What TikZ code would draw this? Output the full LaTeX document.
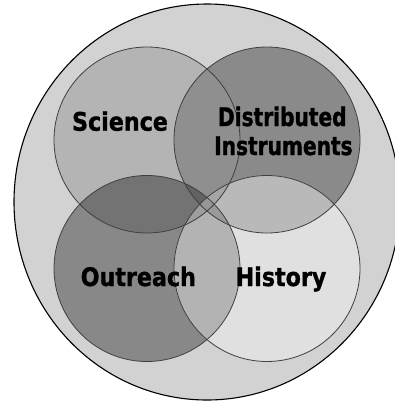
\documentclass[tikz,border=0pt]{standalone}
\usepackage{fontspec}
\newfontfamily\labfont[FakeStretch=0.87,FakeBold=1.2]{DejaVu Sans}
\newfontfamily\labfontn[FakeStretch=0.79,FakeBold=1.2]{DejaVu Sans}
\definecolor{outerc}{HTML}{D2D2D2}
\definecolor{sc}{HTML}{B4B4B4}
\definecolor{dc}{HTML}{8A8A8A}
\definecolor{oc}{HTML}{888888}
\definecolor{hc}{HTML}{E0E0E0}
\definecolor{sdc}{HTML}{8F8F8F}
\definecolor{soc}{HTML}{737373}
\definecolor{dhc}{HTML}{B9B9B9}
\definecolor{ohc}{HTML}{B3B3B3}
\definecolor{shc}{HTML}{A8A8A8}
\definecolor{doc}{HTML}{7A7A7A}
\definecolor{sdoc}{HTML}{626262}
\definecolor{sohc}{HTML}{9E9E9E}
\definecolor{sdhc}{HTML}{A6A6A6}
\definecolor{dohc}{HTML}{9A9A9A}
\definecolor{allc}{HTML}{969696}
\definecolor{ringc}{HTML}{404040}
\begin{document}
\begin{tikzpicture}[x=1pt,y=-1pt,
  lab/.style={font=\labfont\bfseries\fontsize{25.5}{29}\selectfont, anchor=base, inner sep=0pt},
  labn/.style={font=\labfontn\bfseries\fontsize{25.5}{29}\selectfont, anchor=base, inner sep=0pt},
  ring/.style={draw=ringc, line width=0.8pt},
  outerring/.style={draw=black, line width=1.1pt}]
\def\Sp{(147,140) circle [radius=93]}
\def\Dp{(267,140) circle [radius=93]}
\def\Op{(147,268.5) circle [radius=93]}
\def\Hp{(267,268.5) circle [radius=93]}
\useasboundingbox (0,0) rectangle (395,402);
\clip (0,0) rectangle (395,402);
\fill[white] (0,0) rectangle (395,402);
% outer circle
\fill[outerc] (207,202) ellipse [x radius=193, y radius=198];
% single circles
\fill[sc] \Sp;
\fill[dc] \Dp;
\fill[oc] \Op;
\fill[hc] \Hp;
% pairwise overlaps
\begin{scope}\clip \Sp; \fill[sdc] \Dp; \end{scope}
\begin{scope}\clip \Sp; \fill[soc] \Op; \end{scope}
\begin{scope}\clip \Dp; \fill[dhc] \Hp; \end{scope}
\begin{scope}\clip \Op; \fill[ohc] \Hp; \end{scope}
\begin{scope}\clip \Sp; \fill[shc] \Hp; \end{scope}
\begin{scope}\clip \Dp; \fill[doc] \Op; \end{scope}
% triple overlaps
\begin{scope}\clip \Sp; \clip \Dp; \fill[sdoc] \Op; \end{scope}
\begin{scope}\clip \Sp; \clip \Op; \fill[sohc] \Hp; \end{scope}
\begin{scope}\clip \Sp; \clip \Dp; \fill[sdhc] \Hp; \end{scope}
\begin{scope}\clip \Dp; \clip \Op; \fill[dohc] \Hp; \end{scope}
% all four
\begin{scope}\clip \Sp; \clip \Dp; \clip \Op; \fill[allc] \Hp; \end{scope}
% outlines
\draw[ring] \Sp;
\draw[ring] \Dp;
\draw[ring] \Op;
\draw[ring] \Hp;
\draw[outerring] (207,202) ellipse [x radius=193, y radius=198];
% labels
\node[lab] (science) at (120,130.7) {Science};
\node[labn] (distributed) at (282.3,126) {Distributed};
\node[labn] (instruments) at (283.4,155) {Instruments};
\node[lab] (outreach) at (138.3,286) {Outreach};
\node[lab] (history) at (281,286) {History};
\end{tikzpicture}
\end{document}
